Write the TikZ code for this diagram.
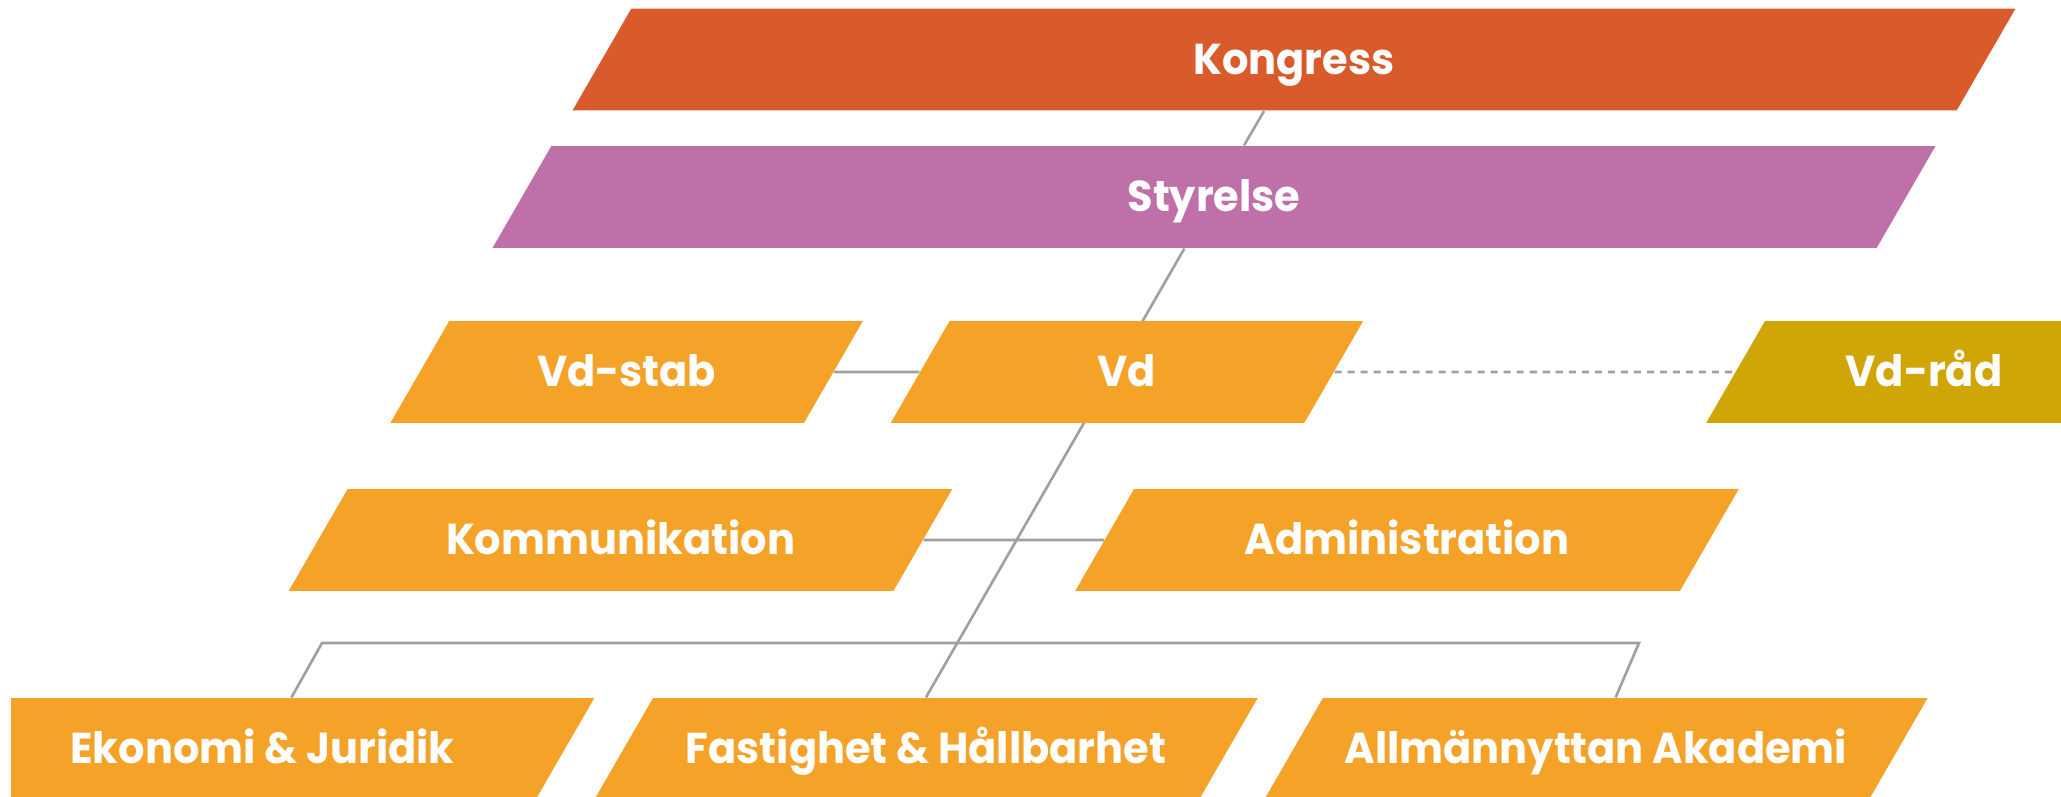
\documentclass[tikz,border=0pt]{standalone}
\usepackage{fontspec}
\setmainfont{Poppins}[FakeStretch=0.96]
\usetikzlibrary{positioning, shapes.geometric, backgrounds}

\definecolor{kongressred}{HTML}{D95B2C}
\definecolor{styrelsepink}{HTML}{BF70A8}
\definecolor{unitorange}{HTML}{F5A228}
\definecolor{radgold}{HTML}{CFA606}
\definecolor{linkgray}{HTML}{A0A0A0}

\begin{document}
\begin{tikzpicture}[
  x=0.01cm, y=0.01cm,
  unit/.style={trapezium, trapezium left angle=60, trapezium right angle=120, trapezium stretches body,
    inner xsep=0pt, inner ysep=10.2pt, fill=unitorange, text=white,
    text height=8.5pt, text depth=0pt, font=\bfseries\fontsize{12.3}{14}\selectfont},
  bigunit/.style={unit, minimum width=14.42cm},
  midunit/.style={unit, minimum width=6.63cm},
  smallunit/.style={unit, minimum width=4.72cm},
  link/.style={draw=linkgray, line width=0.75pt},
  dotlink/.style={link, dash pattern=on 2pt off 1.7pt}
]
  \useasboundingbox (0,0) rectangle (2061,796);
  \clip (11,0) rectangle (2061,796);

  % top levels
  \node[bigunit, fill=kongressred] (kongress) at (1294,736.5) {Kongress};
  \node[bigunit, fill=styrelsepink] (styrelse) at (1214,599) {Styrelse};

  % vd row
  \node[smallunit] (vdstab) at (626.6,424) {Vd-stab};
  \node[smallunit, right=0.85cm of vdstab] (vd) {Vd};
  \node[smallunit, minimum width=4.35cm, fill=radgold, right=4cm of vd] (vdrad) {Vd-råd};

  % staff functions
  \node[midunit] (kommunikation) at (620.5,256) {Kommunikation};
  \node[midunit, right=1.8cm of kommunikation] (administration) {Administration};

  % departments
  \node[midunit] (ekonomi) at (262.5,47) {Ekonomi \& Juridik};
  \node[midunit, right=0.57cm of ekonomi] (fastighet) {Fastighet \& Hållbarhet};
  \node[midunit, right=0.635cm of fastighet] (akademi) {Allmännyttan Akademi};

  % corners of the department bus
  \coordinate (busL) at (322,153);
  \coordinate (busR) at (1639,153);

  \begin{scope}[on background layer]
    \draw[link] (kongress) -- (styrelse) -- (fastighet.90);
    \draw[link] (vdstab) -- (vd);
    \draw[dotlink] (vd) -- (vdrad);
    \draw[link] (kommunikation) -- (administration);
    \draw[link] (ekonomi) -- (busL) -- (busR) -- (akademi.69);
  \end{scope}
\end{tikzpicture}
\end{document}
